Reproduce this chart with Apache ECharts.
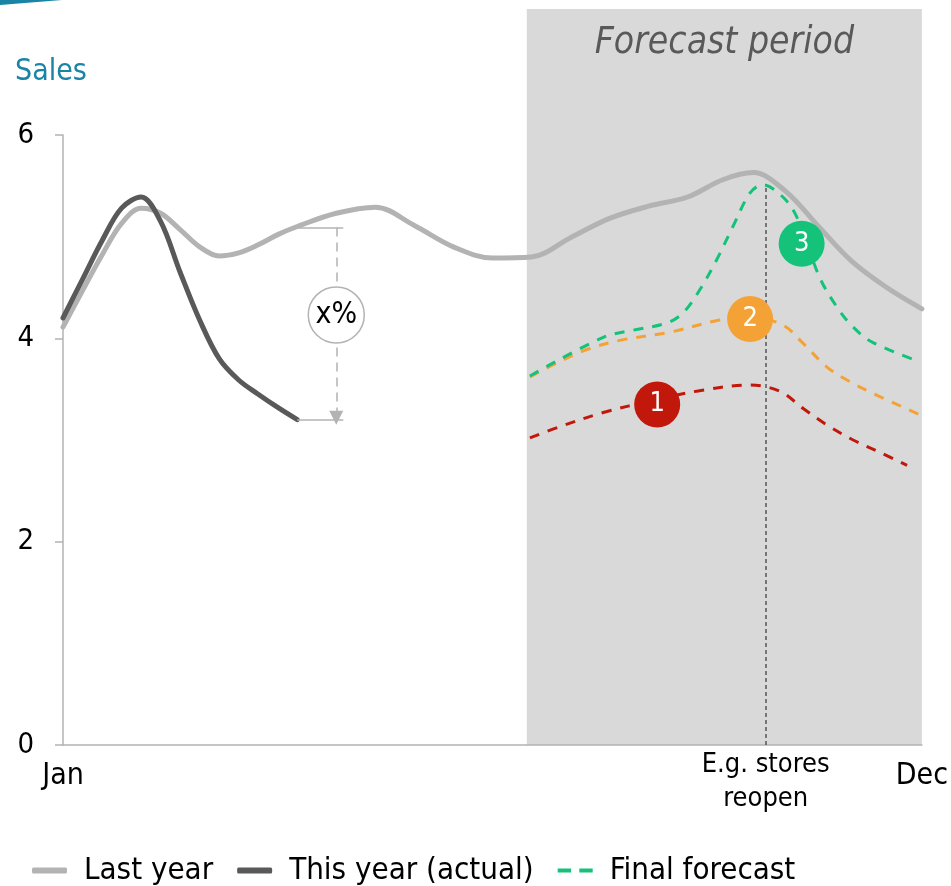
<!DOCTYPE html>
<html>
<head>
<meta charset="utf-8">
<script src="https://cdn.jsdelivr.net/npm/echarts@6/dist/echarts.min.js"></script>
<style>
  html, body { margin: 0; padding: 0; background: #fff; }
  #chart { width: 951px; height: 886px; }
</style>
</head>
<body>
<div id="chart"></div>
<script>
  // x is measured in months from Jan (0) to Dec (11)
  const monthLabels = { 0: 'Jan', 9: 'E.g. stores\nreopen', 11: 'Dec' }
  const yTicks = [0, 2, 4, 6]

  const lastYearX = [0, 0.25, 0.5, 0.75, 1, 1.25, 1.5, 1.75, 2, 2.25, 2.5, 2.75, 3,
    3.5, 4, 4.5, 5, 5.5, 6, 6.5, 7, 7.5, 8, 8.45, 8.84, 9.25, 9.7, 10.1, 10.55, 11]
  const lastYearY = [4.11, 4.47, 4.82, 5.13, 5.28, 5.23, 5.07, 4.90, 4.81, 4.84, 4.92, 5.02, 5.10,
    5.23, 5.29, 5.11, 4.90, 4.79, 4.80, 4.99, 5.18, 5.30, 5.39, 5.56, 5.63, 5.45, 5.08, 4.76, 4.50, 4.29]

  const thisYearX = [0, 0.25, 0.5, 0.75, 1, 1.25, 1.5, 1.75, 2, 2.25, 2.5, 2.75, 3]
  const thisYearY = [4.20, 4.58, 4.96, 5.28, 5.39, 5.15, 4.65, 4.18, 3.80, 3.59, 3.45, 3.32, 3.20]

  const greenX = [5.98, 6.92, 7.30, 7.73, 7.94, 8.15, 8.37, 8.58, 8.80, 8.96, 9.22, 9.40, 9.69, 9.91, 10.12, 10.37, 10.97]
  const greenY = [3.63, 4.01, 4.08, 4.15, 4.25, 4.47, 4.77, 5.10, 5.43, 5.51, 5.39, 5.19, 4.60, 4.31, 4.11, 3.96, 3.77]

  const orangeX = [5.98, 6.33, 6.71, 7.13, 7.77, 8.41, 8.80, 9.22, 9.48, 9.78, 10.04, 10.37, 10.97]
  const orangeY = [3.62, 3.76, 3.89, 3.98, 4.06, 4.18, 4.21, 4.13, 3.95, 3.72, 3.59, 3.46, 3.25]

  const redX = [5.98, 6.36, 6.92, 7.56, 8.19, 8.80, 9.18, 9.48, 9.78, 10.12, 10.46, 10.81]
  const redY = [3.02, 3.13, 3.27, 3.39, 3.49, 3.54, 3.48, 3.31, 3.15, 3.00, 2.88, 2.75]

  const badgeLabels = ['1', '2', '3']
  const badgeX = [7.61, 8.80, 9.46]
  const badgeY = [3.35, 4.19, 4.93]

  const gapX = 3.5          // the x% marker
  const gapTop = 5.09
  const gapBottom = 3.2
  const gapMid = 4.23
  const reopenX = 9
  const reopenTop = 5.51
  const forecastStart = 5.94
  const forecastEnd = 11

  const FONT = '"DejaVu Sans Condensed", "DejaVu Sans", sans-serif'
  const LIGHT = '#b3b3b3'
  const DARK = '#595959'
  const GREEN = '#14c27a'
  const ORANGE = '#f4a235'
  const RED = '#c2170b'
  const badgeColors = [RED, ORANGE, GREEN]

  const zip = (xs, ys) => xs.map((x, i) => [x, ys[i]])

  const chart = echarts.init(document.getElementById('chart'))

  const dashed = (color) => ({ color: color, width: 3, type: [10, 9] })

  chart.setOption({
    animation: false,
    textStyle: { fontFamily: FONT },
    title: {
      text: 'Sales',
      left: 10,
      top: 52,
      textStyle: { fontFamily: FONT, fontSize: 30, fontWeight: 'normal', color: '#1a84a5' }
    },
    legend: {
      data: [
        { name: 'Last year', icon: 'roundRect' },
        { name: 'This year (actual)', icon: 'roundRect' },
        { name: 'Final forecast', icon: 'path://M0,0h13v4h-13z M21,0h13v4h-13z' }
      ],
      left: 27,
      top: 850,
      itemWidth: 35,
      itemHeight: 6,
      itemGap: 24,
      textStyle: { fontFamily: FONT, fontSize: 31, color: '#000', padding: [0, 0, 0, 12] }
    },
    grid: { left: 63, right: 29, top: 135, bottom: 141 },
    xAxis: {
      type: 'value',
      min: 0,
      max: 11,
      interval: 1,
      splitLine: { show: false },
      axisTick: { show: false },
      axisLine: { lineStyle: { color: LIGHT, width: 1.5 } },
      axisLabel: {
        margin: 3,
        fontSize: 27,
        color: '#000',
        lineHeight: 34,
        showMinLabel: true,
        showMaxLabel: true,
        formatter: (v) => {
          if (v === 9) return monthLabels[9]
          if (monthLabels[v]) return '{m|' + monthLabels[v] + '}'
          return ''
        },
        rich: { m: { fontSize: 30, fontFamily: FONT, color: '#000', padding: [22, 0, 0, 0] } }
      }
    },
    yAxis: {
      type: 'value',
      min: 0,
      max: 6,
      interval: 2,
      splitLine: { show: false },
      axisLine: { show: true, lineStyle: { color: LIGHT, width: 1.5 } },
      axisTick: { show: true, length: 8, lineStyle: { color: LIGHT, width: 1.5 } },
      axisLabel: {
        margin: 29,
        fontSize: 29,
        color: '#000',
        formatter: (v) => (yTicks.includes(v) ? String(v) : '')
      }
    },
    series: [
      {
        name: 'Last year',
        type: 'line',
        smooth: 0.35,
        symbol: 'none',
        z: 2,
        lineStyle: { color: LIGHT, width: 5, cap: 'round' },
        itemStyle: { color: LIGHT },
        data: zip(lastYearX, lastYearY)
      },
      {
        name: 'This year (actual)',
        type: 'line',
        smooth: 0.35,
        symbol: 'none',
        z: 3,
        lineStyle: { color: DARK, width: 5, cap: 'round' },
        itemStyle: { color: DARK },
        data: zip(thisYearX, thisYearY),
        markLine: {
          silent: true,
          symbol: 'none',
          label: { show: false },
          data: [
            [
              { coord: [thisYearX[thisYearX.length - 1], gapTop], lineStyle: { color: LIGHT, width: 1.5, type: 'solid' } },
              { coord: [gapX + 0.09, gapTop] }
            ],
            [
              { coord: [thisYearX[thisYearX.length - 1], gapBottom], lineStyle: { color: LIGHT, width: 1.5, type: 'solid' } },
              { coord: [gapX + 0.09, gapBottom] }
            ],
            [
              { coord: [gapX, gapTop], symbol: 'none', lineStyle: { color: LIGHT, width: 1.5, type: [9, 6] } },
              { coord: [gapX, gapBottom + 0.02], symbol: 'triangle', symbolSize: [14, 14], symbolRotate: 180 }
            ]
          ]
        }
      },
      {
        name: 'Scenario 1',
        type: 'line',
        smooth: 0.35,
        symbol: 'none',
        z: 3,
        lineStyle: dashed(RED),
        data: zip(redX, redY),
        markLine: {
          silent: true,
          symbol: 'none',
          label: { show: false },
          lineStyle: { color: '#555', width: 1.5, type: [4, 3] },
          data: [[{ coord: [reopenX, 0] }, { coord: [reopenX, reopenTop] }]]
        }
      },
      {
        name: 'Scenario 2',
        type: 'line',
        smooth: 0.35,
        symbol: 'none',
        z: 3,
        lineStyle: dashed(ORANGE),
        data: zip(orangeX, orangeY)
      },
      {
        name: 'Final forecast',
        type: 'line',
        smooth: 0.35,
        symbol: 'none',
        z: 3,
        lineStyle: dashed(GREEN),
        itemStyle: { color: GREEN },
        data: zip(greenX, greenY)
      },
      {
        name: 'badges',
        type: 'scatter',
        z: 5,
        symbol: 'circle',
        symbolSize: 46,
        silent: true,
        label: { show: true, position: 'inside', color: '#fff', fontSize: 27, fontFamily: FONT, formatter: (p) => badgeLabels[p.dataIndex] },
        data: badgeX.map((x, i) => ({ value: [x, badgeY[i]], itemStyle: { color: badgeColors[i], opacity: 1 } }))
      },
      {
        name: 'gap',
        type: 'scatter',
        z: 5,
        symbol: 'circle',
        symbolSize: 56,
        silent: true,
        itemStyle: { color: '#fff', borderColor: LIGHT, borderWidth: 1.5, opacity: 1 },
        label: { show: true, position: 'inside', color: '#000', fontSize: 30, fontFamily: FONT, formatter: 'x%' },
        data: [[gapX, gapMid]]
      }
    ]
  })

  // forecast band: reaches above the plot up to the top of the page
  const x0 = chart.convertToPixel({ gridIndex: 0 }, [forecastStart, 0])
  const x1 = chart.convertToPixel({ gridIndex: 0 }, [forecastEnd, 0])
  chart.setOption({
    graphic: [
      {
        type: 'polygon',
        silent: true,
        shape: { points: [[0, 0], [62, 0], [0, 5]] },
        style: { fill: '#1a84a5' }
      },
      {
        type: 'rect',
        silent: true,
        z: -10,
        shape: { x: x0[0], y: 9, width: x1[0] - x0[0], height: x0[1] - 9 },
        style: { fill: '#d9d9d9' }
      },
      {
        type: 'text',
        silent: true,
        x: (x0[0] + x1[0]) / 2,
        y: 43,
        style: {
          text: 'Forecast period',
          fill: DARK,
          font: 'italic 37px ' + FONT,
          align: 'center',
          verticalAlign: 'middle'
        }
      }
    ]
  })
</script>
</body>
</html>
